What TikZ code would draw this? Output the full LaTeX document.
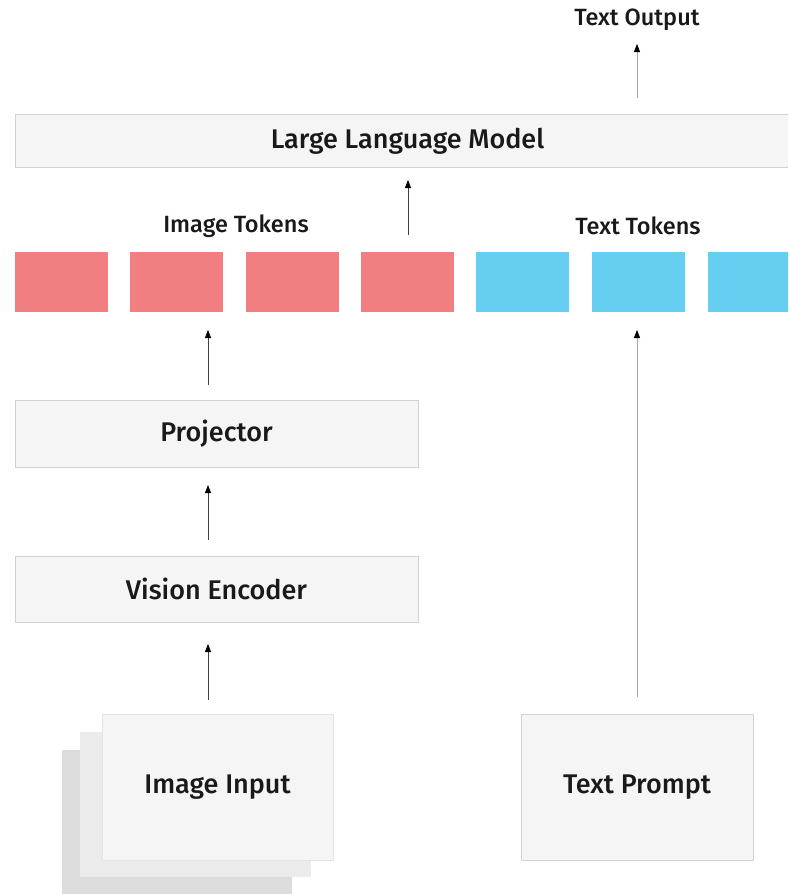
\documentclass[tikz,border=0pt]{standalone}
\usepackage{fontspec}
\setmainfont{Fira Sans Medium}
\usetikzlibrary{arrows.meta}
\definecolor{boxfill}{HTML}{F5F5F5}
\definecolor{boxline}{HTML}{D2D2D2}
\definecolor{tokred}{HTML}{F17F81}
\definecolor{tokblue}{HTML}{66CEF0}
\definecolor{stackmid}{HTML}{EBEBEB}
\definecolor{stackback}{HTML}{DCDCDC}
\tikzset{
  x=1pt, y=1pt,
  box/.style={draw=boxline, fill=boxfill, line width=0.8pt, inner sep=0pt, text=black!90, font=\fontsize{27}{31}\selectfont},
  lbl/.style={inner sep=0pt, text=black!90, font=\fontsize{23.5}{27}\selectfont},
  redtok/.style={fill=tokred, draw=none, minimum width=93pt, minimum height=60pt, inner sep=0pt},
  bluetok/.style={fill=tokblue, draw=none, minimum width=93pt, minimum height=60pt, inner sep=0pt},
  flow/.style={draw=black!75, line width=0.8pt, -{Triangle[length=8pt,width=6pt,color=black]}},
  lightflow/.style={draw=black!35, line width=0.8pt, -{Triangle[length=8pt,width=6pt,color=black]}},
}
\begin{document}
\begin{tikzpicture}
\useasboundingbox (0,0) rectangle (788,-894);
\clip (0,0) rectangle (788,-894);
% LLM
\node[box, minimum width=785pt, minimum height=53pt] (llm) at (407.5,-141) {Large Language Model};
\node[lbl] (tout) at (637,-20) {Text Output};
\coordinate (llmtop) at (637,-98);
\draw[lightflow] (llmtop) -- (637,-44);
% tokens
\node[lbl] (itok) at (236,-226) {Image Tokens};
\node[lbl] (ttok) at (638,-226) {Text Tokens};
\node[redtok] (r1) at (61.5,-282) {};
\node[redtok] (r2) at (176,-282) {};
\node[redtok] (r3) at (292,-282) {};
\node[redtok] (r4) at (407.5,-282) {};
\node[bluetok] (b1) at (522.5,-282) {};
\node[bluetok] (b2) at (638,-282) {};
\node[bluetok] (b3) at (754,-282) {};
\coordinate (tokin) at (408,-235);
\coordinate (llmin) at (408,-180);
\draw[flow] (tokin) -- (llmin);
% projector & encoder
\node[box, minimum width=403pt, minimum height=67pt] (proj) at (216.5,-433.5) {Projector};
\node[box, minimum width=403pt, minimum height=66pt] (enc) at (216.5,-589) {Vision Encoder};
\coordinate (projout) at (208,-385);
\coordinate (tokbot) at (208,-330);
\draw[flow] (projout) -- (tokbot);
\coordinate (encout) at (208,-540);
\coordinate (projin) at (208,-485);
\draw[flow] (encout) -- (projin);
\coordinate (imgout) at (208,-700);
\coordinate (encin) at (208,-644);
\draw[flow] (imgout) -- (encin);
% image input stack
\fill[stackback] (62,-750) rectangle (292,-900);
\fill[stackmid] (80,-732) rectangle (311,-877);
\node[box, draw=boxline!60, minimum width=231pt, minimum height=146pt] (img) at (217.5,-787) {Image Input};
% text prompt
\node[box, minimum width=232pt, minimum height=146pt] (tp) at (637,-787) {Text Prompt};
\coordinate (tpout) at (637,-697);
\coordinate (tokb2) at (637,-330);
\draw[lightflow] (tpout) -- (tokb2);
\end{tikzpicture}
\end{document}
